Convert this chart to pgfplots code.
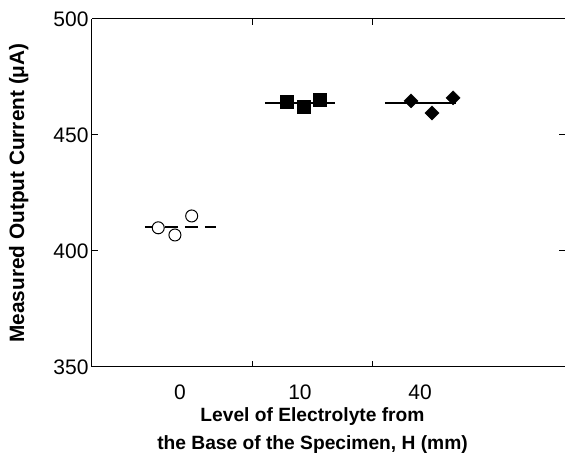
\documentclass[border=0pt]{standalone}
\usepackage{pgfplots}
\pgfplotsset{compat=1.18}
\usepackage{fontspec}
\setmainfont{Liberation Sans}
\begin{document}
\begin{tikzpicture}
\begin{axis}[
  scale only axis, width=473pt, height=348pt,
  xmin=0.267, xmax=4.208, ymin=350, ymax=500,
  xtick={1.608,2.6}, xticklabels={,},
  extra x ticks={1,2,3}, extra x tick labels={0,10,40},
  extra x tick style={major tick length=0pt},
  ytick={350,400,450,500},
  tick align=inside, major tick length=6pt,
  tick style={black, line width=1pt},
  separate axis lines,
  x axis line style={black, line width=1pt},
  y axis line style={draw=none},
  tick label style={font=\fontsize{21}{25}\selectfont},
  xticklabel style={yshift=-14pt},
  /pgf/number format/assume math mode=true,
  xlabel={Level of Electrolyte from\\the Base of the Specimen, H (mm)},
  xlabel style={font=\bfseries\fontsize{19.2}{28}\selectfont, align=center, yshift=-1pt, xshift=-16pt},
  ylabel={Measured Output Current (μA)},
  ylabel style={font=\bfseries\fontsize{20.8}{24}\selectfont},
  ylabel shift=18pt,
  clip=false,
]
\coordinate (ll) at (rel axis cs:0,0);
\coordinate (ur) at (rel axis cs:1,1);
\draw[black, line width=1pt] (rel axis cs:0,0) -- (rel axis cs:0,1);
% H = 0 mm
\addplot[black, line width=1.8pt, dash pattern=on 13pt off 7pt] coordinates {(0.708,410.5) (1.3,410.5)};
\addplot[only marks, mark=*, mark size=6pt, mark options={fill=white, draw=black, line width=1pt}] coordinates {(0.819,410.0) (0.958,406.9) (1.0975,415.1)};
% H = 10 mm
\addplot[black, line width=1.8pt] coordinates {(1.708,463.8) (2.292,463.8)};
\addplot[only marks, mark=square*, mark size=6.5pt, mark options={fill=black, draw=black}] coordinates {(1.892,464.2) (2.033,462.1) (2.167,465.1)};
% H = 40 mm
\addplot[black, line width=1.8pt] coordinates {(2.708,463.8) (3.3,463.8)};
\addplot[only marks, mark=square*, mark size=5pt, mark options={fill=black, draw=black, rotate=45}] coordinates {(2.925,464.7) (3.1,459.5) (3.275,466.0)};
\end{axis}
\pgfresetboundingbox
\path[use as bounding box] ([xshift=-92pt,yshift=-90pt]ll) rectangle ([yshift=19pt]ur);
\end{tikzpicture}
\end{document}
